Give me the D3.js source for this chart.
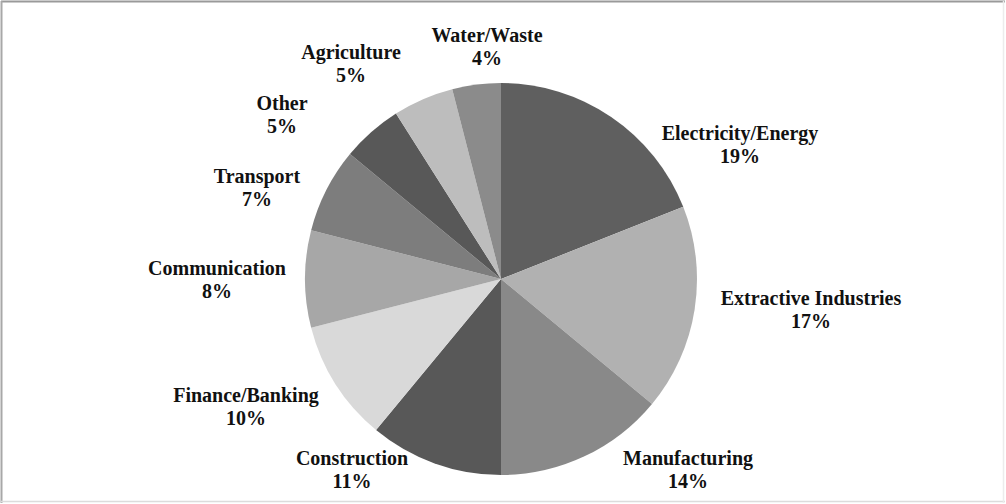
<!DOCTYPE html>
<html>
<head>
<meta charset="utf-8">
<script src="https://cdn.jsdelivr.net/npm/d3@7/dist/d3.min.js"></script>
<style>
  html, body { margin: 0; padding: 0; background: #ffffff; }
  svg { display: block; }
</style>
</head>
<body>
<script>
// Sector shares (%), clockwise from 12 o'clock
const sectors = ["Electricity/Energy", "Extractive Industries", "Manufacturing", "Construction",
                 "Finance/Banking", "Communication", "Transport", "Other", "Agriculture", "Water/Waste"];
const shares = [19, 17, 14, 11, 10, 8, 7, 5, 5, 4];
const shades = ["#5f5f5f", "#b1b1b1", "#898989", "#585858", "#d9d9d9",
                "#a7a7a7", "#7d7d7d", "#595959", "#bdbdbd", "#8b8b8b"];

// Label anchor points (centre of the two-line label block)
const labelPos = [[740, 145], [811, 310], [688, 470], [352, 470], [246, 407],
                  [217, 280], [257, 188], [282, 115], [351, 64], [487, 47]];

const W = 1006, H = 504;
const cx = 501, cy = 279, R = 196;

const svg = d3.select("body").append("svg").attr("width", W).attr("height", H);

// frame
svg.append("rect").attr("x", 0).attr("y", 0).attr("width", W).attr("height", H).attr("fill", "#ffffff");
svg.append("line").attr("x1", 1).attr("y1", 1.5).attr("x2", W - 1).attr("y2", 1.5)
  .attr("stroke", "#9a9a9a").attr("stroke-width", 2);
svg.append("line").attr("x1", 1.5).attr("y1", 1).attr("x2", 1.5).attr("y2", H - 1)
  .attr("stroke", "#a8a8a8").attr("stroke-width", 2);
svg.append("line").attr("x1", 1).attr("y1", H - 2.5).attr("x2", W - 1).attr("y2", H - 2.5)
  .attr("stroke", "#dcdcdc").attr("stroke-width", 1.5);
svg.append("line").attr("x1", W - 2.5).attr("y1", 1).attr("x2", W - 2.5).attr("y2", H - 1)
  .attr("stroke", "#ececec").attr("stroke-width", 1.5);

const defs = svg.append("defs");
defs.append("filter").attr("id", "soft")
  .attr("x", "-10%").attr("y", "-10%").attr("width", "120%").attr("height", "120%")
  .append("feGaussianBlur").attr("stdDeviation", 0.7);

const data = sectors.map((s, i) => ({ name: s, value: shares[i], color: shades[i], pos: labelPos[i] }));

const pie = d3.pie().value(d => d.value).sort(null);
const arc = d3.arc().innerRadius(0).outerRadius(R);

const g = svg.append("g").attr("transform", `translate(${cx},${cy})`).attr("filter", "url(#soft)");
g.selectAll("path")
  .data(pie(data))
  .join("path")
  .attr("d", arc)
  .attr("fill", d => d.data.color);

const labels = svg.append("g")
  .attr("font-family", "'Liberation Serif', 'Times New Roman', serif")
  .attr("font-weight", "bold")
  .attr("font-size", 20)
  .attr("fill", "#111111")
  .attr("text-anchor", "middle");

const lg = labels.selectAll("text")
  .data(data)
  .join("text")
  .attr("x", d => d.pos[0])
  .attr("y", d => d.pos[1]);
lg.append("tspan").attr("x", d => d.pos[0]).attr("dy", -5).text(d => d.name);
lg.append("tspan").attr("x", d => d.pos[0]).attr("dy", 23).text(d => d.value + "%");
</script>
</body>
</html>
